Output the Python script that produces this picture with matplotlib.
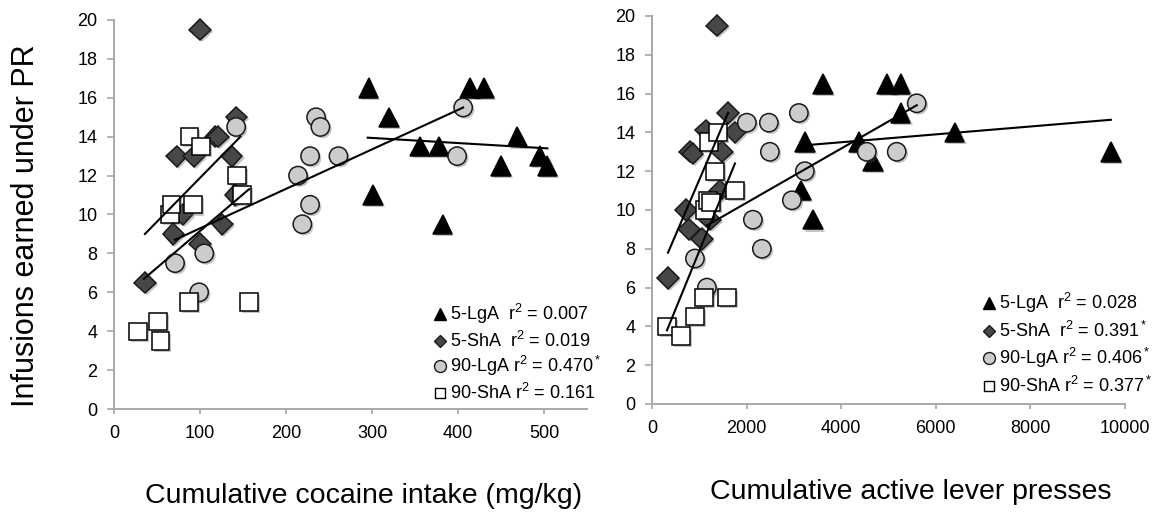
import matplotlib
matplotlib.use('Agg')
import matplotlib.pyplot as plt
import matplotlib.patheffects as pe
from matplotlib.lines import Line2D

plt.rcParams['font.family'] = ['Liberation Sans', 'DejaVu Sans']
plt.rcParams['mathtext.fontset'] = 'custom'
plt.rcParams['mathtext.rm'] = 'Liberation Sans'
plt.rcParams['mathtext.it'] = 'Liberation Sans:italic'

# ---- left panel: cumulative cocaine intake (mg/kg) ----
coc_lga5_x = [296, 301, 320, 356, 378, 382, 414, 430, 450, 469, 495, 504]
coc_lga5_y = [16.5, 11, 15, 13.5, 13.5, 9.5, 16.5, 16.5, 12.5, 14, 13, 12.5]
coc_sha5_x = [36, 69, 73, 80, 93, 100, 100, 118, 121, 126, 137, 141, 142]
coc_sha5_y = [6.5, 9, 13, 10, 13, 8.5, 19.5, 14, 14, 9.5, 13, 11, 15]
coc_lga90_x = [71, 99, 105, 142, 214, 219, 228, 228, 235, 240, 261, 399, 406]
coc_lga90_y = [7.5, 6, 8, 14.5, 12, 9.5, 10.5, 13, 15, 14.5, 13, 13, 15.5]
coc_sha90_x = [28, 51, 54, 65, 67, 87, 88, 92, 101, 143, 149, 157]
coc_sha90_y = [4, 4.5, 3.5, 10, 10.5, 5.5, 14, 10.5, 13.5, 12, 11, 5.5]

# trendline end points (x pair, y pair)
coc_fit_lga5 = ([295, 504], [13.95, 13.4])
coc_fit_sha5 = ([36, 147], [9.0, 14.0])
coc_fit_lga90 = ([71, 406], [8.7, 15.5])
coc_fit_sha90 = ([35, 157], [6.7, 11.3])

coc_labels = [r'5-LgA  r$^2$ = 0.007', r'5-ShA  r$^2$ = 0.019',
              r'90-LgA r$^2$ = 0.470$^*$', r'90-ShA r$^2$ = 0.161']

# ---- right panel: cumulative active lever presses ----
lev_lga5_x = [3147, 3231, 3400, 3611, 4372, 4668, 4963, 5258, 5258, 6400, 9700]
lev_lga5_y = [11, 13.5, 9.5, 16.5, 13.5, 12.5, 16.5, 16.5, 15, 14, 13]
lev_sha5_x = [338, 718, 781, 803, 860, 1056, 1140, 1225, 1373, 1436, 1480, 1607, 1754]
lev_sha5_y = [6.5, 10, 9, 13, 12.9, 8.5, 14.1, 9.5, 19.5, 11, 13, 15, 14]
lev_lga90_x = [908, 1161, 2006, 2133, 2323, 2471, 2492, 2957, 3105, 3231, 4541, 5174, 5597]
lev_lga90_y = [7.5, 6, 14.5, 9.5, 8, 14.5, 13, 10.5, 15, 12, 13, 13, 15.5]
lev_sha90_x = [317, 613, 908, 1098, 1120, 1183, 1204, 1250, 1331, 1394, 1584, 1754]
lev_sha90_y = [4, 3.5, 4.5, 5.5, 10, 10.5, 13.5, 10.4, 12, 14, 5.5, 11]

lev_fit_lga5 = ([3300, 9700], [13.35, 14.65])
lev_fit_sha5 = ([338, 1607], [7.8, 15.0])
lev_fit_lga90 = ([1160, 5597], [9.2, 15.4])
lev_fit_sha90 = ([317, 1754], [3.8, 12.4])

lev_labels = [r'5-LgA  r$^2$ = 0.028', r'5-ShA  r$^2$ = 0.391$^*$',
              r'90-LgA r$^2$ = 0.406$^*$', r'90-ShA r$^2$ = 0.377$^*$']

W, H = 1160, 519
fig = plt.figure(figsize=(11.6, 5.19), dpi=100)


def px_rect(x0, y0, x1, y1):
    return [x0 / W, 1 - y1 / H, (x1 - x0) / W, (y1 - y0) / H]


# marker, face, edge, size (pt), legend size (pt)
styles = [('^', 'black', 'black', 14.0, 8.8),
          ('D', '#474747', '#1a1a1a', 10.8, 6.4),
          ('o', '#cccccc', '#1a1a1a', 13.2, 8.6),
          ('s', 'white', 'black', 12.5, 7.9)]

shadow = [pe.SimplePatchShadow(offset=(1.5, -1.5), shadow_rgbFace='0.35', alpha=0.35), pe.Normal()]
axis_grey = '#a8a8a8'


def draw_panel(ax, series, fits, xmax, xstep, xticks_max):
    for (x, y), (m, fc, ec, ms, _) in zip(series, styles):
        ax.plot(x, y, ls='none', marker=m, ms=ms, mfc=fc, mec=ec, mew=1.1,
                path_effects=shadow, clip_on=False, zorder=3)
    for fx, fy in fits:
        ax.plot(fx, fy, color='black', lw=1.5, zorder=4, clip_on=False)
    ax.set_xlim(0, xmax)
    ax.set_ylim(0, 20)
    ax.set_yticks(range(0, 21, 2))
    ax.set_xticks(range(0, xticks_max + 1, xstep))
    for s in ['top', 'right']:
        ax.spines[s].set_visible(False)
    for s in ['left', 'bottom']:
        ax.spines[s].set_color(axis_grey)
        ax.spines[s].set_linewidth(1.4)
    ax.tick_params(axis='both', direction='out', colors=axis_grey, labelcolor='black',
                   labelsize=13, width=1.2)
    ax.tick_params(axis='y', length=5, pad=7)
    ax.tick_params(axis='x', length=3.5, pad=8)


def draw_key(x_mark, x_text, rows, labels):
    for (m, fc, ec, _, lms), yy, lab in zip(styles, rows, labels):
        fig.add_artist(Line2D([x_mark / W], [1 - yy / H], transform=fig.transFigure, ls='none',
                              marker=m, ms=lms, mfc=fc, mec=ec, mew=1.0))
        fig.text(x_text / W, 1 - yy / H, lab, fontsize=13, ha='left', va='center')


ax1 = fig.add_axes(px_rect(114, 20, 587, 409))
draw_panel(ax1,
           [(coc_lga5_x, coc_lga5_y), (coc_sha5_x, coc_sha5_y),
            (coc_lga90_x, coc_lga90_y), (coc_sha90_x, coc_sha90_y)],
           [coc_fit_lga5, coc_fit_sha5, coc_fit_lga90, coc_fit_sha90],
           550, 100, 500)

ax2 = fig.add_axes(px_rect(652, 16, 1125, 404))
draw_panel(ax2,
           [(lev_lga5_x, lev_lga5_y), (lev_sha5_x, lev_sha5_y),
            (lev_lga90_x, lev_lga90_y), (lev_sha90_x, lev_sha90_y)],
           [lev_fit_lga5, lev_fit_sha5, lev_fit_lga90, lev_fit_sha90],
           10000, 2000, 10000)

draw_key(440, 450, [314, 341, 366, 393], coc_labels)
draw_key(989, 999, [303, 331, 358, 386], lev_labels)

fig.text(26 / W, 1 - 226 / H, 'Infusions earned under PR', rotation=90,
         fontsize=22, ha='center', va='center')
fig.text(364 / W, 1 - 496 / H, 'Cumulative cocaine intake (mg/kg)', fontsize=20.5,
         ha='center', va='center')
fig.text(911 / W, 1 - 492 / H, 'Cumulative active lever presses', fontsize=20.5,
         ha='center', va='center')

fig.savefig('out.png', dpi=100)
